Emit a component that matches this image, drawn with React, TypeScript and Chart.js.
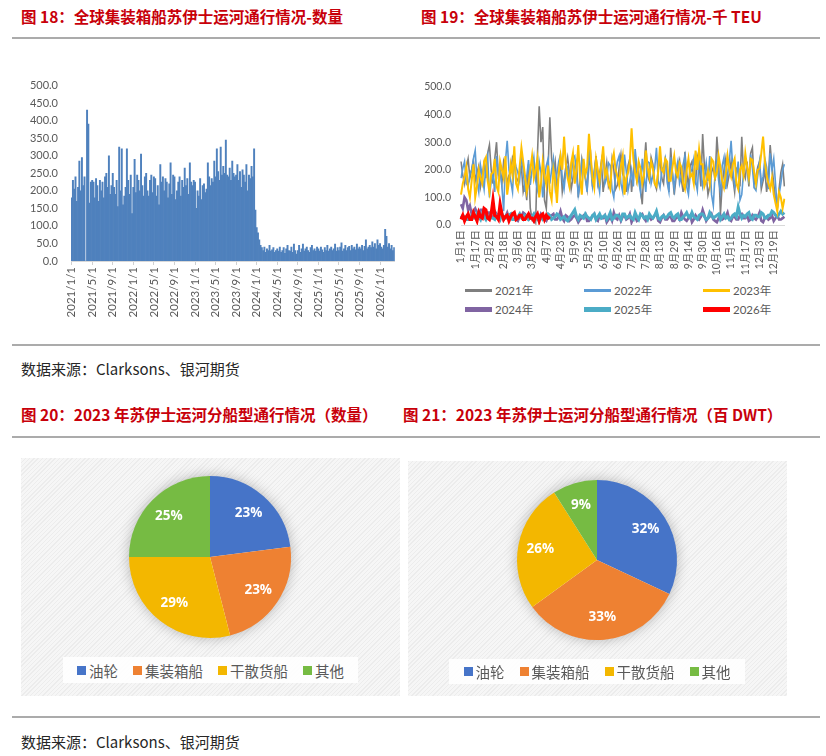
import React, { useEffect, useRef } from 'react';
import Chart from 'chart.js/auto';

const FONT = "Lato, 'Noto Sans CJK SC', sans-serif";
const CJK = "'Noto Sans CJK SC', 'Noto Sans', sans-serif";
const TITLE_RED = '#c8000a';
const AXIS_TEXT = '#595959';

// ---------- 图18：每根柱约 7.5 天，每 16 根一个刻度（4 个月） ----------
const barTickLabels = [
  '2021/1/1', '2021/5/1', '2021/9/1', '2022/1/1', '2022/5/1', '2022/9/1',
  '2023/1/1', '2023/5/1', '2023/9/1', '2024/1/1', '2024/5/1', '2024/9/1',
  '2025/1/1', '2025/5/1', '2025/9/1', '2026/1/1',
];
const bars2021 = [
  180, 230, 205, 240, 170, 210, 285, 200, 295, 215, 240, 0, 430, 390, 165, 225,
  230, 225, 180, 235, 215, 170, 230, 200, 225, 180, 240, 250, 210, 300, 190, 215,
  250, 210, 190, 230, 155, 325, 200, 320, 160, 185, 210, 320, 230, 190, 245, 135,
];
const bars2022 = [
  210, 290, 195, 245, 230, 200, 305, 215, 185, 240, 250, 200, 185, 230, 245, 195,
  240, 235, 185, 215, 160, 275, 225, 240, 200, 235, 225, 180, 220, 280, 190, 245,
  240, 175, 200, 225, 240, 185, 230, 210, 265, 215, 235, 190, 280, 225, 215, 230,
];
const bars2023 = [
  225, 150, 200, 185, 235, 175, 215, 220, 195, 205, 280, 240, 215, 235, 225, 285,
  240, 320, 255, 230, 325, 245, 270, 250, 345, 245, 240, 265, 230, 285, 250, 240,
  245, 275, 230, 255, 210, 260, 245, 225, 275, 200, 245, 235, 270, 240, 320, 145,
];
const bars2024 = [
  95, 80, 60, 45, 38, 30, 40, 25, 35, 30, 45, 28, 32, 38, 25, 30,
  35, 28, 40, 25, 30, 38, 22, 35, 45, 30, 28, 40, 25, 48, 30, 20,
  30, 45, 25, 35, 48, 28, 35, 40, 30, 25, 38, 45, 30, 35, 28, 40,
];
const bars2025 = [
  35, 28, 40, 32, 25, 38, 30, 45, 28, 35, 40, 30, 35, 48, 28, 38,
  30, 40, 52, 28, 35, 45, 30, 38, 42, 30, 45, 35, 40, 32, 48, 35,
  40, 35, 45, 30, 42, 60, 35, 40, 45, 38, 55, 40, 50, 35, 60, 45,
];
const bars2026 = [50, 40, 35, 45, 90, 70, 40, 50, 35, 45, 30, 38];

const barValues = [...bars2021, ...bars2022, ...bars2023, ...bars2024, ...bars2025, ...bars2026];
const barLabels = barValues.map((_, i) => (i % 16 === 0 ? barTickLabels[i / 16] : ''));

// ---------- 图19：每 2 天一个点，每 8 个点一个刻度 ----------
const dayTickLabels = [
  '1月1日', '1月17日', '2月2日', '2月18日', '3月6日', '3月22日', '4月7日', '4月23日',
  '5月9日', '5月25日', '6月10日', '6月26日', '7月12日', '7月28日', '8月13日', '8月29日',
  '9月14日', '9月30日', '10月16日', '11月1日', '11月17日', '12月3日', '12月19日',
];
const teu2021 = [
  230, 180, 150, 210, 240, 170, 200, 235, 160, 190, 215, 140, 180, 225, 170, 260, 290, 200, 150, 240,
  300, 180, 200, 150, 230, 205, 150, 180, 190, 245, 230, 170, 160, 195, 210, 120, 150, 90, 220, 60,
  20, 30, 10, 250, 430, 300, 355, 90, 60, 200, 390, 240, 190, 230, 140, 180, 230, 120, 165, 210,
  245, 190, 130, 170, 210, 230, 100, 160, 240, 205, 175, 130, 215, 250, 140, 195, 250, 150, 185, 230,
  120, 175, 225, 140, 160, 240, 200, 130, 145, 210, 255, 185, 170, 120, 215, 240, 120, 190, 235, 160,
  190, 130, 75, 210, 300, 180, 160, 245, 220, 150, 130, 200, 240, 170, 150, 235, 205, 120, 280, 190,
  110, 170, 210, 235, 165, 120, 265, 190, 140, 215, 230, 160, 150, 250, 225, 140, 330, 210, 180, 110,
  140, 190, 210, 160, 320, 230, 40, 150, 200, 240, 150, 185, 230, 170, 120, 205, 210, 140, 320, 190,
  170, 230, 140, 260, 280, 150, 175, 210, 230, 130, 160, 200, 120, 175, 290, 210, 150, 90, 60, 130,
  190, 220, 140,
];
const teu2022 = [
  170, 205, 230, 150, 140, 185, 200, 240, 270, 160, 120, 215, 175, 130, 215, 250, 100, 160, 180, 120,
  250, 190, 205, 140, 50, 230, 305, 200, 160, 120, 240, 210, 190, 160, 250, 200, 120, 175, 235, 145,
  200, 245, 160, 130, 230, 190, 100, 170, 215, 240, 150, 200, 240, 140, 185, 230, 255, 170, 130, 195,
  210, 145, 170, 240, 250, 185, 110, 150, 230, 200, 165, 120, 280, 210, 140, 190, 245, 160, 120, 215,
  265, 150, 170, 225, 215, 130, 100, 185, 230, 250, 150, 120, 255, 195, 125, 160, 200, 140, 275, 210,
  160, 120, 240, 180, 120, 230, 225, 150, 180, 205, 280, 160, 135, 200, 210, 240, 155, 120, 245, 185,
  130, 200, 230, 150, 175, 220, 250, 140, 110, 185, 205, 240, 160, 125, 240, 200, 140, 175, 225, 160,
  250, 110, 70, 190, 235, 160, 120, 215, 245, 130, 180, 230, 305, 200, 140, 170, 230, 90, 110, 190,
  240, 210, 150, 255, 205, 135, 125, 180, 230, 150, 175, 240, 210, 130, 260, 200, 240, 150, 60, 110,
  150, 200, 220,
];
const teu2023 = [
  110, 150, 175, 210, 130, 100, 160, 220, 100, 140, 200, 170, 150, 230, 245, 160, 120, 185, 190, 240,
  140, 120, 230, 200, 170, 250, 110, 160, 220, 180, 285, 150, 130, 210, 280, 230, 180, 120, 150, 200,
  250, 170, 200, 240, 100, 150, 230, 180, 145, 215, 120, 90, 200, 160, 80, 190, 250, 200, 320, 220,
  170, 140, 225, 260, 150, 200, 290, 170, 110, 240, 180, 210, 330, 250, 170, 135, 240, 200, 160, 220,
  285, 180, 200, 150, 130, 230, 260, 200, 175, 145, 215, 250, 110, 170, 190, 230, 350, 240, 190, 160,
  230, 205, 150, 180, 270, 210, 175, 230, 205, 150, 140, 195, 285, 200, 190, 240, 230, 160, 160, 210,
  250, 190, 175, 225, 210, 150, 130, 200, 240, 175, 185, 150, 270, 200, 275, 220, 220, 140, 160, 195,
  150, 240, 230, 170, 190, 250, 210, 160, 135, 185, 250, 200, 175, 220, 240, 150, 130, 200, 215, 180,
  260, 210, 170, 240, 235, 190, 150, 200, 205, 260, 320, 230, 180, 150, 130, 170, 110, 80, 50, 120,
  100, 60, 95,
];
const teu2024 = [
  75, 60, 100, 90, 55, 70, 40, 50, 60, 45, 35, 55, 55, 40, 30, 45, 45, 30, 25, 50,
  40, 35, 30, 45, 20, 30, 45, 25, 25, 40, 35, 20, 15, 30, 30, 45, 40, 25, 20, 35,
  25, 15, 35, 25, 20, 40, 30, 20, 15, 30, 25, 35, 40, 20, 20, 30, 50, 25, 15, 35,
  30, 15, 20, 30, 35, 25, 10, 20, 25, 35, 40, 15, 15, 25, 30, 40, 20, 15, 35, 25,
  25, 35, 10, 20, 30, 15, 45, 25, 20, 35, 15, 30, 35, 20, 25, 40, 10, 25, 30, 15,
  20, 35, 40, 25, 15, 30, 30, 20, 25, 35, 45, 15, 10, 25, 35, 20, 20, 30, 30, 15,
  15, 25, 30, 20, 45, 30, 20, 15, 25, 35, 10, 20, 35, 25, 20, 30, 55, 35, 15, 25,
  30, 40, 20, 15, 10, 25, 35, 20, 25, 30, 45, 20, 15, 30, 30, 20, 20, 35, 40, 25,
  25, 35, 15, 20, 35, 25, 20, 30, 45, 15, 10, 25, 30, 20, 25, 35, 15, 25, 35, 20,
  20, 25, 30,
];
const teu2025 = [
  25, 35, 30, 20, 20, 30, 35, 25, 25, 40, 30, 20, 40, 30, 20, 35, 30, 25, 25, 20,
  35, 30, 20, 40, 30, 25, 25, 35, 40, 20, 20, 30, 30, 40, 25, 20, 35, 30, 20, 25,
  30, 40, 25, 20, 35, 30, 20, 25, 30, 40, 35, 20, 25, 30, 40, 35, 20, 25, 30, 20,
  15, 25, 35, 45, 55, 30, 20, 35, 30, 25, 40, 30, 25, 20, 35, 40, 20, 30, 40, 25,
  30, 35, 20, 30, 45, 20, 25, 35, 35, 30, 20, 40, 40, 25, 30, 35, 25, 20, 45, 30,
  20, 40, 35, 25, 30, 20, 40, 30, 25, 35, 50, 25, 20, 30, 35, 25, 30, 40, 45, 30,
  25, 35, 40, 20, 20, 30, 35, 45, 30, 25, 45, 30, 25, 20, 35, 40, 40, 30, 20, 25,
  45, 35, 25, 30, 35, 40, 20, 30, 40, 25, 30, 20, 25, 35, 40, 30, 65, 40, 25, 35,
  30, 40, 45, 25, 20, 35, 35, 30, 30, 45, 40, 25, 25, 35, 35, 50, 45, 35, 30, 40,
  50, 40, 45,
];
const teu2026 = [
  20, 35, 15, 30, 40, 20, 20, 45, 30, 15, 45, 30, 25, 60, 55, 25, 20, 40, 90, 35,
  30, 20, 75, 40, 20, 30, 35, 15, 30, 40, 45, 20, 25, 35, 35, 20, 20, 30, 40, 25,
  25, 15, 30, 40, 15, 35, 40, 20, 35, 25, 30,
];

const yearNames = ['2021年', '2022年', '2023年', '2024年', '2025年', '2026年'];
const yearSeries = [teu2021, teu2022, teu2023, teu2024, teu2025, teu2026];
const yearColors = ['#7f7f7f', '#5b9bd5', '#ffc000', '#8064a2', '#4bacc6', '#ff0000'];
const yearLineWidths = [1.6, 1.6, 2, 2.6, 3, 3.2];
const yearLegendWidths = [3, 3, 3, 5, 5, 5];
const yearOrder = [6, 4, 2, 5, 3, 1];
const dayLabels = teu2021.map((_, i) => (i % 8 === 0 ? dayTickLabels[i / 8] : ''));

// ---------- 图20 / 图21 ----------
const shipTypes = ['油轮', '集装箱船', '干散货船', '其他'];
const shareByCount = [23, 23, 29, 25];
const shareByDwt = [32, 33, 26, 9];
const shipColors = ['#4674c8', '#ee8132', '#f3b700', '#76bb43'];

const pieDecor = {
  id: 'pieDecor',
  beforeDatasetsDraw(chart: any) {
    const arc = chart.getDatasetMeta(0).data[0];
    if (!arc) return;
    const { x, y, outerRadius } = arc.getProps(['x', 'y', 'outerRadius'], true);
    const ctx = chart.ctx;
    ctx.save();
    ctx.shadowColor = 'rgba(0,0,0,0.3)';
    ctx.shadowBlur = 14;
    ctx.fillStyle = '#ffffff';
    ctx.beginPath();
    ctx.arc(x, y, outerRadius - 1, 0, Math.PI * 2);
    ctx.fill();
    ctx.restore();
  },
  afterDatasetsDraw(chart: any) {
    const meta = chart.getDatasetMeta(0);
    const values = chart.data.datasets[0].data as number[];
    const ctx = chart.ctx;
    ctx.save();
    ctx.fillStyle = '#ffffff';
    ctx.font = "bold 13.5px 'Open Sans', sans-serif";
    ctx.textAlign = 'center';
    ctx.textBaseline = 'middle';
    meta.data.forEach((el: any, i: number) => {
      const { x, y, startAngle, endAngle, outerRadius } = el.getProps(
        ['x', 'y', 'startAngle', 'endAngle', 'outerRadius'],
        true
      );
      const mid = (startAngle + endAngle) / 2;
      const r = outerRadius * 0.72;
      ctx.fillText(values[i] + '%', x + Math.cos(mid) * r, y + Math.sin(mid) * r);
    });
    ctx.restore();
  },
};

const barConfig = (): any => ({
  type: 'bar',
  data: {
    labels: barLabels,
    datasets: [
      {
        data: barValues,
        backgroundColor: '#4f81bd',
        borderWidth: 0,
        barPercentage: 1,
        categoryPercentage: 1,
      },
    ],
  },
  options: {
    animation: false,
    responsive: true,
    maintainAspectRatio: false,
    layout: { padding: { top: 16, right: 14, left: 0, bottom: 0 } },
    plugins: { legend: { display: false }, tooltip: { enabled: false } },
    scales: {
      x: {
        afterFit: (s: any) => {
          s.height = 65;
        },
        grid: {
          display: true,
          drawOnChartArea: false,
          drawTicks: true,
          tickLength: 4,
          offset: false,
          color: (c: any) => (c.tick && c.tick.label ? '#d0d0d0' : 'rgba(0,0,0,0)'),
        },
        border: { display: true, color: '#d9d9d9' },
        ticks: {
          autoSkip: false,
          minRotation: 90,
          maxRotation: 90,
          padding: 2,
          color: AXIS_TEXT,
          font: { family: FONT, size: 11.5 },
        },
      },
      y: {
        min: 0,
        max: 500,
        afterFit: (s: any) => {
          s.width = 51;
        },
        grid: { display: false, drawTicks: false },
        border: { display: false },
        ticks: {
          stepSize: 50,
          padding: 13,
          color: AXIS_TEXT,
          font: { family: FONT, size: 11 },
          callback: (v: any) => Number(v).toFixed(1),
        },
      },
    },
  },
});

const lineConfig = (): any => ({
  type: 'line',
  data: {
    labels: dayLabels,
    datasets: yearSeries.map((s, i) => ({
      label: yearNames[i],
      data: s,
      borderColor: yearColors[i],
      backgroundColor: yearColors[i],
      borderWidth: yearLineWidths[i],
      pointRadius: 0,
      tension: 0,
      order: yearOrder[i],
    })),
  },
  options: {
    animation: false,
    responsive: true,
    maintainAspectRatio: false,
    layout: { padding: { top: 17, right: 15, left: 0, bottom: 0 } },
    plugins: { legend: { display: false }, tooltip: { enabled: false } },
    scales: {
      x: {
        afterFit: (s: any) => {
          s.height = 55;
        },
        grid: { display: false, drawTicks: false },
        border: { display: true, color: '#d9d9d9' },
        ticks: {
          autoSkip: false,
          minRotation: 90,
          maxRotation: 90,
          padding: 5,
          color: AXIS_TEXT,
          font: { family: FONT, size: 10.5 },
        },
      },
      y: {
        min: 0,
        max: 500,
        afterFit: (s: any) => {
          s.width = 51;
        },
        grid: { display: false, drawTicks: false },
        border: { display: false },
        ticks: {
          stepSize: 50,
          padding: 10,
          color: AXIS_TEXT,
          font: { family: FONT, size: 10.5 },
          callback: (v: any) => Number(v).toFixed(1),
        },
      },
    },
  },
});

const pieConfig = (values: number[], pad: number): any => ({
  type: 'pie',
  data: {
    labels: shipTypes,
    datasets: [{ data: values, backgroundColor: shipColors, borderWidth: 0 }],
  },
  options: {
    animation: false,
    responsive: true,
    maintainAspectRatio: false,
    layout: { padding: pad },
    plugins: { legend: { display: false }, tooltip: { enabled: false } },
  },
  plugins: [pieDecor],
});

type BoxProps = { left: number; top: number; width: number; height: number; make: () => any };

const ChartBox: React.FC<BoxProps> = ({ left, top, width, height, make }) => {
  const ref = useRef<HTMLCanvasElement>(null);
  useEffect(() => {
    if (!ref.current) return;
    const chart = new Chart(ref.current, make());
    return () => {
      chart.destroy();
    };
  }, []);
  return (
    <div style={{ position: 'absolute', left, top, width, height }}>
      <canvas ref={ref} />
    </div>
  );
};

const Rule: React.FC<{ top: number }> = ({ top }) => (
  <div style={{ position: 'absolute', left: 12, top, width: 808, height: 2, background: '#ababab' }} />
);

const Title: React.FC<{ left: number; top: number; text: string }> = ({ left, top, text }) => (
  <div
    style={{
      position: 'absolute',
      left,
      top,
      lineHeight: '20px',
      fontSize: 15.5,
      fontWeight: 700,
      color: TITLE_RED,
      fontFamily: CJK,
      whiteSpace: 'nowrap',
    }}
  >
    {text}
  </div>
);

const Source: React.FC<{ top: number }> = ({ top }) => (
  <div
    style={{
      position: 'absolute',
      left: 21,
      top,
      lineHeight: '20px',
      fontSize: 15,
      color: '#262626',
      fontFamily: CJK,
      whiteSpace: 'nowrap',
    }}
  >
    数据来源：Clarksons、银河期货
  </div>
);

const hatch =
  'repeating-linear-gradient(135deg, #ececec 0px, #ececec 1px, #f6f6f6 1px, #f6f6f6 3px)';

const PieLegend: React.FC<{ left: number; top: number; width: number; height: number }> = ({
  left,
  top,
  width,
  height,
}) => (
  <div
    style={{
      position: 'absolute',
      left,
      top,
      width,
      height,
      background: 'rgba(255,255,255,0.9)',
      display: 'flex',
      alignItems: 'center',
      justifyContent: 'center',
      gap: 15,
      fontFamily: CJK,
      fontSize: 14.5,
      color: AXIS_TEXT,
    }}
  >
    {shipTypes.map((t, i) => (
      <div key={t} style={{ display: 'flex', alignItems: 'center' }}>
        <span style={{ width: 9, height: 9, background: shipColors[i], marginRight: 3 }} />
        <span>{t}</span>
      </div>
    ))}
  </div>
);

const legendCols = [465, 584, 703];
const legendRows = [290, 309];

const App: React.FC = () => {
  return (
    <div
      style={{
        position: 'absolute',
        left: 0,
        top: 0,
        width: 826,
        height: 756,
        background: '#ffffff',
        overflow: 'hidden',
      }}
    >
      <Title left={21} top={6} text="图 18：全球集装箱船苏伊士运河通行情况-数量" />
      <Title left={421} top={6} text="图 19：全球集装箱船苏伊士运河通行情况-千 TEU" />
      <Rule top={37} />

      <ChartBox left={20} top={66} width={390} height={260} make={barConfig} />
      <ChartBox left={410} top={70} width={392} height={210} make={lineConfig} />

      {yearNames.map((n, i) => (
        <div
          key={n}
          style={{
            position: 'absolute',
            left: legendCols[i % 3],
            top: legendRows[Math.floor(i / 3)] - 9,
            height: 18,
            display: 'flex',
            alignItems: 'center',
            fontFamily: FONT,
            fontSize: 11.5,
            color: AXIS_TEXT,
            whiteSpace: 'nowrap',
          }}
        >
          <span
            style={{
              width: 27,
              height: yearLegendWidths[i],
              background: yearColors[i],
              marginRight: 3,
            }}
          />
          <span>{n}</span>
        </div>
      ))}

      <Rule top={344} />
      <Source top={359} />

      <Title left={21} top={404} text="图 20：2023 年苏伊士运河分船型通行情况（数量）" />
      <Title left={403} top={404} text="图 21：2023 年苏伊士运河分船型通行情况（百 DWT）" />
      <Rule top={436} />

      <div style={{ position: 'absolute', left: 21, top: 458, width: 379, height: 238, background: hatch }} />
      <div style={{ position: 'absolute', left: 408, top: 461, width: 379, height: 235, background: hatch }} />
      <ChartBox left={110} top={457} width={200} height={200} make={() => pieConfig(shareByCount, 19)} />
      <ChartBox left={497} top={460} width={200} height={200} make={() => pieConfig(shareByDwt, 20)} />
      <PieLegend left={63} top={657} width={295} height={26} />
      <PieLegend left={449} top={659} width={296} height={25} />

      <Rule top={716} />
      <Source top={732} />
    </div>
  );
};

export default App;
